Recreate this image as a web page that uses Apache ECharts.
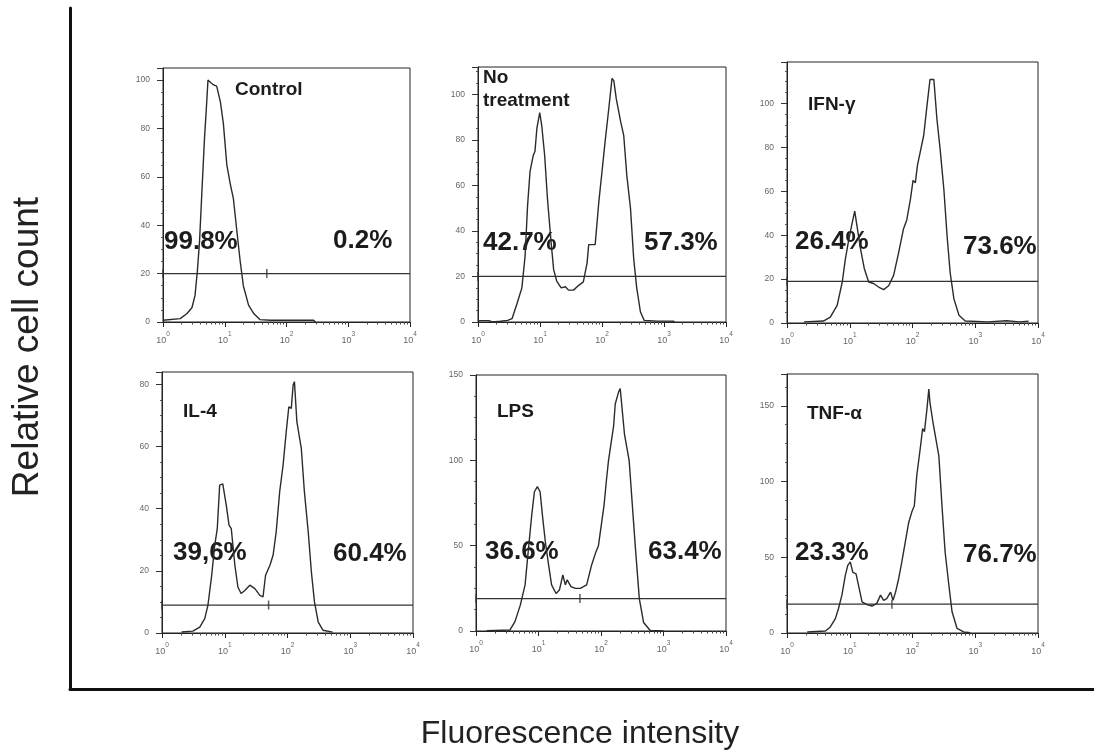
<!DOCTYPE html>
<html>
<head>
<meta charset="utf-8">
<script src="https://cdn.jsdelivr.net/npm/echarts@6/dist/echarts.min.js"></script>
<style>
  html, body { margin: 0; padding: 0; background: #fff; }
  #chart { width: 1094px; height: 756px; }
</style>
</head>
<body>
<div id="chart"></div>
<script>
// Flow cytometry histograms: fluorescence intensity (log) vs relative cell count

const panelNames = ['Control', 'No\ntreatment', 'IFN-γ', 'IL-4', 'LPS', 'TNF-α'];
const lowPercent = ['99.8%', '42.7%', '26.4%', '39,6%', '36.6%', '23.3%'];
const highPercent = ['0.2%', '57.3%', '73.6%', '60.4%', '63.4%', '76.7%'];
const yMax = [105, 112, 119, 84, 150, 171];
const yStep = [20, 20, 20, 20, 50, 50];
const gateLevel = [20, 20, 19, 9, 19, 19];
const gateSplit = [48, null, null, 50, 46, 47];
const xMin = 1;
const xMax = 10000;

// [fluorescence, count]
const histControl = [
  [1, 0.7], [1.9, 1.4], [2.45, 3.5], [2.95, 6], [3.3, 11], [3.6, 21], [3.9, 33],
  [4.25, 53], [4.7, 76], [5.0, 87], [5.35, 100], [5.9, 99], [6.6, 98], [7.4, 97.5],
  [8.5, 91], [9.5, 82], [10.8, 65], [12.3, 57], [13.8, 51], [15.8, 37], [17.8, 25],
  [20, 15], [24.3, 7], [29.5, 3.5], [37, 1], [55, 0.7], [275, 0.7], [295, 0]
];
const histUntreated = [
  [1, 0.6], [1.5, 0.6], [1.7, 0], [2.3, 0.3], [3.0, 0.7], [3.55, 1.5], [4.25, 8],
  [5.1, 15], [5.75, 29], [6.3, 51], [6.9, 66], [7.75, 73], [8.3, 75], [8.9, 85],
  [9.9, 92], [10.7, 86], [11.9, 73], [13.2, 54], [15.1, 35], [16.6, 23], [18.6, 18],
  [21.9, 15], [25.7, 15.5], [28.8, 14], [34.7, 14], [41.7, 16], [50, 17.6], [57.5, 26],
  [61, 34], [77.6, 34], [89, 53], [100, 66], [112, 79], [129, 94], [145, 107],
  [155, 106], [170, 98], [182, 97.5], [200, 88], [224, 82], [251, 64.5], [288, 50],
  [324, 28], [363, 15], [417, 4.4], [479, 0.7], [794, 0.4], [1410, 0.4], [1480, 0]
];
const histIFNg = [
  [1.86, 0.5], [3.8, 0.9], [4.9, 2.7], [6.3, 8], [7.6, 18.7], [8.5, 29], [9.5, 37],
  [11, 46], [12, 51], [13, 44.5], [14.8, 34], [17, 25], [20, 18.7], [24, 18],
  [28.8, 16.4], [34.7, 15.2], [41.7, 17], [50, 21.7], [60, 32], [72, 43], [81, 47],
  [93, 56.7], [102, 65], [111, 64], [120, 72], [133, 78], [151, 85.6], [170, 99],
  [190, 111], [219, 111], [245, 93], [275, 79.5], [316, 61], [355, 40], [398, 23],
  [457, 11], [550, 3.5], [692, 0.9], [1580, 0.5], [3160, 1], [5000, 0.5], [7080, 0.8]
];
const histIL4 = [
  [2.05, 0.3], [3.1, 0.6], [4.0, 1.9], [4.8, 4.6], [5.4, 9], [6.2, 18.6], [6.9, 28],
  [7.6, 33.6], [8.3, 47.6], [9.3, 48], [10.6, 41], [11.7, 34.7], [12.7, 33.6],
  [14.5, 21.8], [16.2, 14.8], [18.2, 12.7], [20.9, 13.7], [25.1, 15.4], [30.2, 14.3],
  [36.3, 12.1], [40.7, 11.6], [44.7, 18.6], [52.5, 21.8], [58.9, 25], [66, 32.5],
  [75, 45.4], [85, 54], [95.5, 64.8], [105, 72.8], [115, 72.3], [123, 79.8],
  [129, 80.9], [141, 68], [166, 59.4], [186, 45.4], [214, 32.5], [240, 19.7],
  [269, 10], [309, 3.5], [367, 0.9], [525, 0.3]
];
const histLPS = [
  [1.48, 0.2], [3.5, 0.6], [4.2, 5.5], [5.1, 15], [6.1, 27], [6.9, 48], [7.8, 68],
  [8.6, 81.6], [9.6, 84.6], [10.6, 81.6], [11.7, 66], [12.9, 52], [14.5, 38.7],
  [16.2, 27], [19.1, 22], [21.6, 24], [24.5, 32.8], [26.9, 27], [28.8, 30], [33.1, 26],
  [38.9, 25], [46.8, 25], [58.9, 27], [70.8, 38.7], [83.2, 46.5], [91, 50], [112, 73.8],
  [123, 89.5], [132, 100], [159, 120], [169, 133], [191, 140], [203, 142], [238, 115],
  [282, 100], [353, 50], [410, 19], [480, 5], [614, 0.3], [1000, 0]
];
const histTNFa = [
  [2.1, 0.7], [4.1, 1.3], [4.9, 4], [5.9, 9.5], [6.6, 16], [7.5, 25], [8.5, 38],
  [9.3, 44.7], [10.2, 47], [11.2, 40], [12.6, 39], [13.8, 31.5], [15.7, 20.5],
  [18.8, 18.7], [22.6, 17.8], [26.9, 19.4], [30.9, 25], [34.7, 21.6], [38.9, 22.7],
  [44.7, 27], [49, 21.6], [53.7, 27], [60.3, 36], [67.6, 47], [76.7, 60], [87, 73],
  [97.7, 80], [107, 84], [117, 104], [133, 122], [145, 135], [155, 133], [170, 148],
  [182, 161], [190, 152], [214, 138], [229, 139], [263, 117], [295, 84], [331, 53.5],
  [380, 31.5], [427, 14], [513, 3], [653, 0.7], [832, 0.2]
];
const histograms = [histControl, histUntreated, histIFNg, histIL4, histLPS, histTNFa];

// Layout (pixels)
const frames = [
  { left: 163, top: 68, width: 247, height: 254 },
  { left: 478, top: 67, width: 248, height: 255 },
  { left: 787, top: 62, width: 251, height: 261 },
  { left: 162, top: 372, width: 251, height: 261 },
  { left: 476, top: 375, width: 250, height: 256 },
  { left: 787, top: 374, width: 251, height: 259 }
];
const nameAt = [[235, 90], [483, 89.5], [808, 105], [183, 412], [497, 412], [807, 414]];
const lowAt = [[164, 242], [483, 243], [795, 242], [173, 553], [485, 552], [795, 553]];
const highAt = [[333, 241], [644, 243], [963, 247], [333, 554], [648, 552], [963, 555]];

const FONT = '"Liberation Sans", Arial, Helvetica, sans-serif';
const INK = '#1c1c1c';
const TICK_INK = '#666';

const chart = echarts.init(document.getElementById('chart'), null, { renderer: 'canvas' });

const grids = [], xAxes = [], yAxes = [], series = [], graphics = [];

frames.forEach((f, i) => {
  grids.push({
    left: f.left, top: f.top, width: f.width, height: f.height,
    show: true, borderColor: '#222', borderWidth: 1, containLabel: false
  });
  xAxes.push({
    gridIndex: i, type: 'log', logBase: 10, min: xMin, max: xMax,
    axisLine: { show: true, onZero: false, lineStyle: { color: '#222', width: 1 } },
    axisTick: { show: true, length: 5, lineStyle: { color: '#222' } },
    minorTick: { show: true, splitNumber: 9, length: 2.5, lineStyle: { color: '#444' } },
    splitLine: { show: false },
    axisLabel: {
      margin: 9, color: TICK_INK,
      formatter: v => '{b|10}{s|' + Math.round(Math.log10(v)) + '}',
      rich: {
        b: { fontSize: 9, fontFamily: FONT, color: TICK_INK, lineHeight: 14, verticalAlign: 'bottom' },
        s: { fontSize: 6.5, fontFamily: FONT, color: TICK_INK, lineHeight: 7, verticalAlign: 'top' }
      }
    }
  });
  yAxes.push({
    gridIndex: i, type: 'value', min: 0, max: yMax[i], interval: yStep[i],
    axisLine: { show: true, lineStyle: { color: '#222', width: 1 } },
    axisTick: { show: true, length: 6, lineStyle: { color: '#333' } },
    minorTick: { show: true, splitNumber: 4, length: 2, lineStyle: { color: '#555' } },
    splitLine: { show: false },
    axisLabel: {
      fontSize: 8.5, fontFamily: FONT, color: TICK_INK, margin: 13,
      formatter: v => (v % yStep[i] === 0 ? String(v) : '')
    }
  });

  series.push({
    type: 'line', xAxisIndex: i, yAxisIndex: i, data: histograms[i],
    showSymbol: false, symbol: 'none', smooth: false, silent: true,
    lineStyle: { color: '#2b2b2b', width: 1.4 }, z: 3
  });
  series.push({
    type: 'line', xAxisIndex: i, yAxisIndex: i,
    data: [[xMin, gateLevel[i]], [xMax, gateLevel[i]]],
    showSymbol: false, symbol: 'none', silent: true,
    lineStyle: { color: '#333', width: 1.3 }, z: 2
  });
  const marks = [[xMin, gateLevel[i]]];
  if (gateSplit[i] !== null) marks.push([gateSplit[i], gateLevel[i]]);
  series.push({
    type: 'scatter', xAxisIndex: i, yAxisIndex: i, data: marks,
    symbol: 'rect', symbolSize: [1.5, 9], silent: true,
    itemStyle: { color: '#333' }, z: 4
  });

  graphics.push({
    type: 'text', x: nameAt[i][0], y: nameAt[i][1], silent: true,
    style: {
      text: panelNames[i], fill: INK, font: 'bold 19px ' + FONT,
      align: 'left', verticalAlign: 'middle', lineHeight: 22.5
    }
  });
  graphics.push({
    type: 'text', x: lowAt[i][0], y: lowAt[i][1], silent: true,
    style: { text: lowPercent[i], fill: INK, font: 'bold 26px ' + FONT, align: 'left', verticalAlign: 'middle' }
  });
  graphics.push({
    type: 'text', x: highAt[i][0], y: highAt[i][1], silent: true,
    style: { text: highPercent[i], fill: INK, font: 'bold 26px ' + FONT, align: 'left', verticalAlign: 'middle' }
  });
});

// Outer frame axes for the whole figure
grids.push({ left: 70, top: 8, width: 1024, height: 681, show: false });
xAxes.push({
  gridIndex: 6, type: 'value', min: 0, max: 1,
  axisLine: { show: true, lineStyle: { color: '#111', width: 3 } },
  axisTick: { show: false }, axisLabel: { show: false }, splitLine: { show: false }
});
yAxes.push({
  gridIndex: 6, type: 'value', min: 0, max: 1,
  axisLine: { show: true, lineStyle: { color: '#111', width: 3 } },
  axisTick: { show: false }, axisLabel: { show: false }, splitLine: { show: false }
});

graphics.push({
  type: 'text', x: 28, y: 347, rotation: Math.PI / 2, silent: true,
  style: { text: 'Relative cell count', fill: '#222', font: '37px ' + FONT, align: 'center', verticalAlign: 'middle' }
});
graphics.push({
  type: 'text', x: 580, y: 734, silent: true,
  style: { text: 'Fluorescence intensity', fill: '#222', font: '32px ' + FONT, align: 'center', verticalAlign: 'middle' }
});

chart.setOption({
  animation: false,
  backgroundColor: '#fff',
  grid: grids,
  xAxis: xAxes,
  yAxis: yAxes,
  series: series,
  graphic: graphics
});
</script>
</body>
</html>
